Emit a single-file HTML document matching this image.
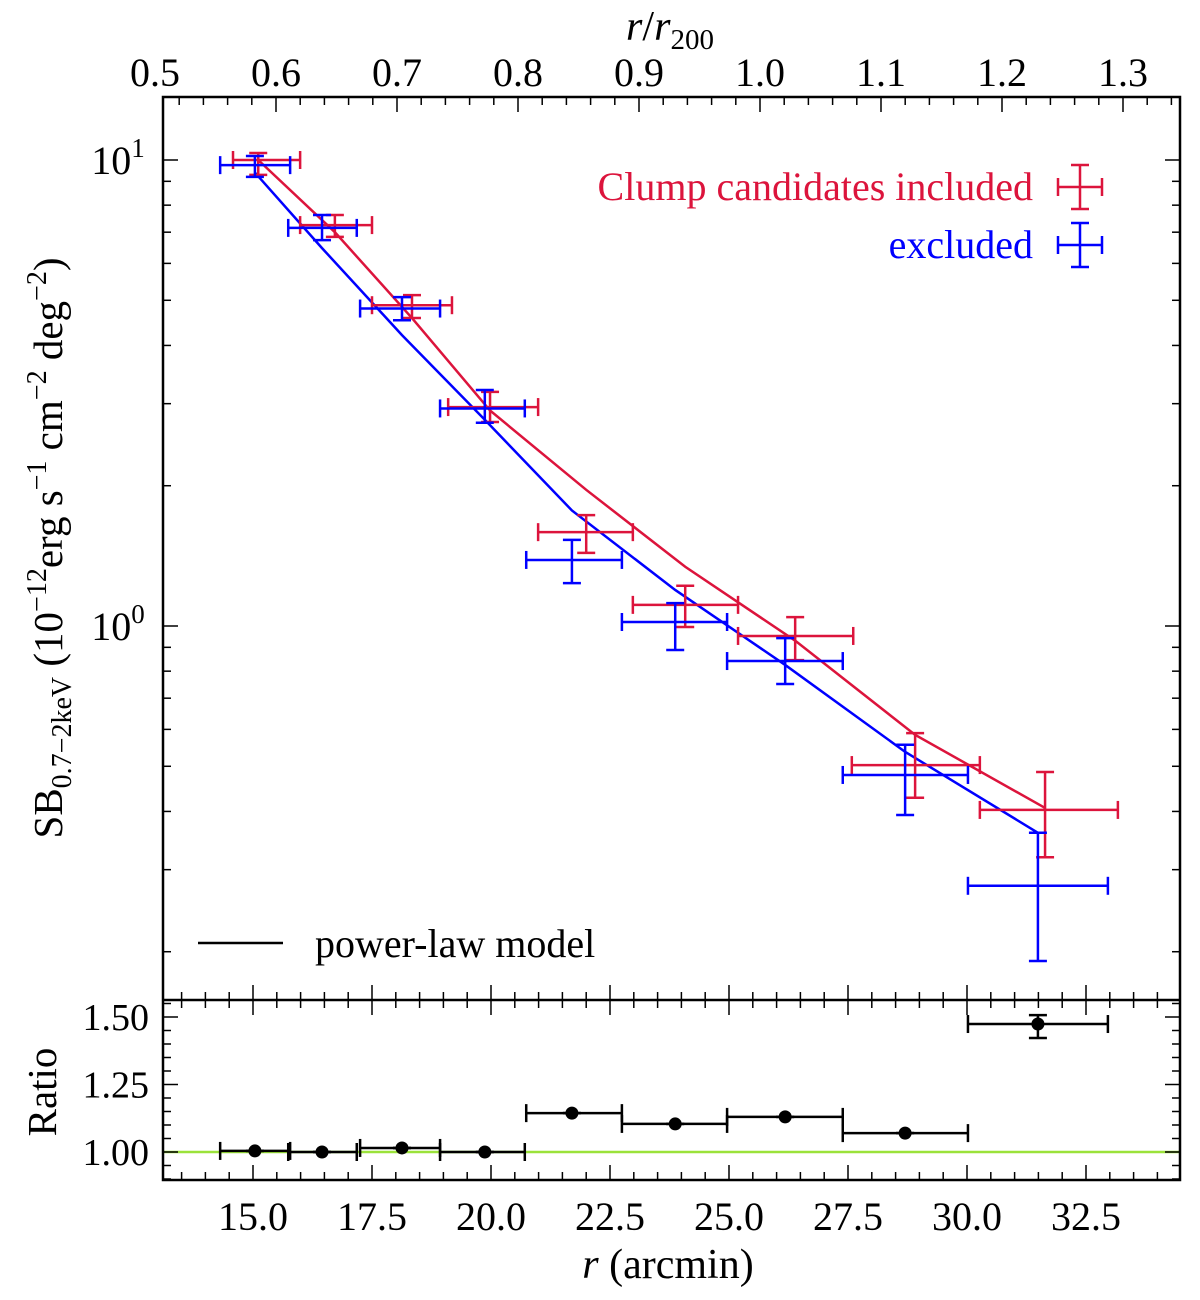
<!DOCTYPE html>
<html><head><meta charset="utf-8"><style>
body{margin:0;background:#fff}
svg text{font-family:"Liberation Serif",serif;fill:#000}
</style></head><body>
<svg id="c" width="1200" height="1295" xmlns="http://www.w3.org/2000/svg"></svg>
<script>
// ---- data ----
const redR=[15.11,16.72,18.34,19.98,22.0,24.08,26.39,28.91,31.64];
const redRlo=[14.58,15.99,17.50,19.10,20.99,22.98,25.19,27.58,30.27];
const redRhi=[15.99,17.50,19.18,20.99,22.98,25.19,27.61,30.27,33.17];
const redSB=[10.0,7.25,4.88,2.95,1.59,1.11,0.952,0.503,0.403];
const redSBlo=[9.29,6.84,4.58,2.74,1.435,0.995,0.845,0.428,0.319];
const redSBhi=[10.35,7.62,5.13,3.18,1.73,1.22,1.045,0.589,0.486];
const redModel=[10.0,7.0,4.58,2.9,1.96,1.34,0.93,0.584,0.407];
const blueR=[15.04,16.45,18.13,19.87,21.70,23.87,26.18,28.70,31.49];
const blueRlo=[14.31,15.74,17.25,18.93,20.74,22.75,24.96,27.39,30.02];
const blueRhi=[15.78,17.18,18.93,20.71,22.75,24.96,27.39,30.02,32.96];
const blueSB=[9.75,7.15,4.8,2.93,1.386,1.02,0.841,0.479,0.277];
const blueSBlo=[9.2,6.73,4.53,2.73,1.236,0.888,0.751,0.393,0.191];
const blueSBhi=[10.2,7.62,5.08,3.21,1.53,1.12,0.942,0.556,0.36];
const blueModel=[9.4,6.47,4.21,2.77,1.77,1.195,0.825,0.537,0.36];
const ratio=[1.004,1.0,1.015,1.0,1.144,1.104,1.13,1.07,1.474];
const ratioLo=[1.004,1.0,1.015,1.0,1.144,1.104,1.13,1.07,1.422];
const ratioHi=[1.004,1.0,1.015,1.0,1.144,1.104,1.13,1.07,1.507];
const xTicks=[15.0,17.5,20.0,22.5,25.0,27.5,30.0,32.5];
const topTicks=[0.5,0.6,0.7,0.8,0.9,1.0,1.1,1.2,1.3];
const ratioTicks=[1.00,1.25,1.50];

const L=163,R=1180,T=97,M=1000,B=1180;
const X=r=>253+(r-15)*47.6;
const XT=v=>155+(v-0.5)*1210;
const Y=v=>626-466*Math.log10(v);
const YR=v=>1152-270*(v-1);
const svg=document.getElementById('c');
const NS='http://www.w3.org/2000/svg';
function el(tag,at,name,txt){const e=document.createElementNS(NS,tag);for(const k in at)e.setAttribute(k,at[k]);


if(txt!==undefined)e.textContent=txt;svg.appendChild(e);return e;}
function line(x1,y1,x2,y2,c,w,n){return el('line',{x1,y1,x2,y2,stroke:c,'stroke-width':w},n);}

line(L,YR(1),R,YR(1),'#9be23a',2.5,'ratio-unity-line');

for(let r=13.5;r<=34.5;r+=0.5){const x=X(r);if(x<L||x>R)continue;const maj=Math.abs(r/2.5-Math.round(r/2.5))<1e-6;const l=maj?15:8;
 line(x,B,x,B-l,'#000',1.5,'x-tick');line(x,M,x,M+l,'#000',1.5,'x-tick');line(x,M,x,M-l,'#000',1.5,'x-tick');}
xTicks.forEach(v=>el('text',{x:X(v),y:1230,'font-size':40,'text-anchor':'middle'},'x-tick-label',v.toFixed(1)));
for(let v=0.5;v<=1.36;v+=0.02){const x=XT(v);if(x<L||x>R)continue;const maj=Math.abs(v*10-Math.round(v*10))<1e-6;line(x,T,x,T+(maj?15:8),'#000',1.5,'top-tick');}
topTicks.forEach(v=>el('text',{x:XT(v),y:86,'font-size':40,'text-anchor':'middle'},'top-tick-label',v.toFixed(1)));
for(let d=-1;d<=1;d++)for(let m=1;m<=9;m++){const v=m*Math.pow(10,d);const y=Y(v);if(y<T||y>M)continue;const l=m==1?15:8;
 line(L,y,L+l,y,'#000',1.5,'y-tick');line(R,y,R-l,y,'#000',1.5,'y-tick');}
el('text',{x:118,y:Y(10)+14,'font-size':40,'text-anchor':'middle'},'y-tick-label-10-1').innerHTML='10<tspan dy="-17" font-size="27">1</tspan>';
el('text',{x:118,y:Y(1)+14,'font-size':40,'text-anchor':'middle'},'y-tick-label-10-0').innerHTML='10<tspan dy="-17" font-size="27">0</tspan>';
for(let v=0.9;v<=1.56;v+=0.05){const y=YR(v);if(y<M||y>B)continue;const maj=Math.abs(v*4-Math.round(v*4))<1e-6;const l=maj?15:8;
 line(L,y,L+l,y,'#000',1.5,'ratio-tick');line(R,y,R-l,y,'#000',1.5,'ratio-tick');}
ratioTicks.forEach(v=>el('text',{x:149,y:YR(v)+13,'font-size':38,'text-anchor':'end'},'ratio-tick-label',v.toFixed(2)));

el('rect',{x:L,y:T,width:R-L,height:B-T,fill:'none',stroke:'#000','stroke-width':2.5},'plot-frame');
line(L,M,R,M,'#000',2.5,'panel-divider');

function poly(xs,ys,c,n){el('polyline',{points:xs.map((r,i)=>X(r)+','+Y(ys[i])).join(' '),fill:'none',stroke:c,'stroke-width':2.5},n);}
poly(redR,redModel,'#dc143c','red-model-line');
poly(blueR,blueModel,'#0000ff','blue-model-line');

function ebar(x,y,x1,x2,y1,y2,c,n){const cap=9;
 line(x1,y,x2,y,c,2.5,n);line(x,y1,x,y2,c,2.5,n);
 line(x1,y-cap,x1,y+cap,c,2.5,n);line(x2,y-cap,x2,y+cap,c,2.5,n);
 line(x-cap,y1,x+cap,y1,c,2.5,n);line(x-cap,y2,x+cap,y2,c,2.5,n);}
redR.forEach((r,i)=>ebar(X(r),Y(redSB[i]),X(redRlo[i]),X(redRhi[i]),Y(redSBhi[i]),Y(redSBlo[i]),'#dc143c','red-point'));
blueR.forEach((r,i)=>ebar(X(r),Y(blueSB[i]),X(blueRlo[i]),X(blueRhi[i]),Y(blueSBhi[i]),Y(blueSBlo[i]),'#0000ff','blue-point'));
blueR.forEach((r,i)=>{ebar(X(r),YR(ratio[i]),X(blueRlo[i]),X(blueRhi[i]),YR(ratioHi[i]),YR(ratioLo[i]),'#000','ratio-bar');
 el('circle',{cx:X(r),cy:YR(ratio[i]),r:6.5,fill:'#000'},'ratio-point');});

el('text',{x:1033,y:200,'font-size':40,'text-anchor':'end',style:'fill:#dc143c'},'legend-included','Clump candidates included');
ebar(1080,187,1058,1102,165,209,'#dc143c','legend-red-marker');
el('text',{x:1033,y:258,'font-size':40,'text-anchor':'end',style:'fill:#0000ff'},'legend-excluded','excluded');
ebar(1080,245,1058,1102,223,267,'#0000ff','legend-blue-marker');
line(198,943,283,943,'#000',2.5,'legend-model-line');
el('text',{x:315,y:957,'font-size':40},'legend-model','power-law model');

el('text',{x:668,y:1278,'font-size':42,'text-anchor':'middle'},'x-axis-title').innerHTML='<tspan font-style="italic">r</tspan> (arcmin)';
el('text',{x:670,y:40,'font-size':42,'text-anchor':'middle'},'top-axis-title').innerHTML='<tspan font-style="italic">r</tspan>/<tspan font-style="italic">r</tspan><tspan font-size="29" dy="9">200</tspan>';
el('text',{x:0,y:0,'font-size':41,'text-anchor':'middle',transform:'translate(62,548) rotate(-90)'},'y-axis-title').innerHTML='SB<tspan font-size="28" dy="9">0.7−2keV</tspan><tspan dy="-9"> (10</tspan><tspan font-size="28" dy="-16">−12</tspan><tspan dy="16">erg s</tspan><tspan font-size="28" dy="-16">−1</tspan><tspan dy="16"> cm</tspan><tspan font-size="28" dy="-16">−2</tspan><tspan dy="16"> deg</tspan><tspan font-size="28" dy="-16">−2</tspan><tspan dy="16">)</tspan>';
el('text',{x:0,y:0,'font-size':41,'text-anchor':'middle',transform:'translate(56,1092) rotate(-90)'},'ratio-axis-title','Ratio');
</script>
</body></html>
